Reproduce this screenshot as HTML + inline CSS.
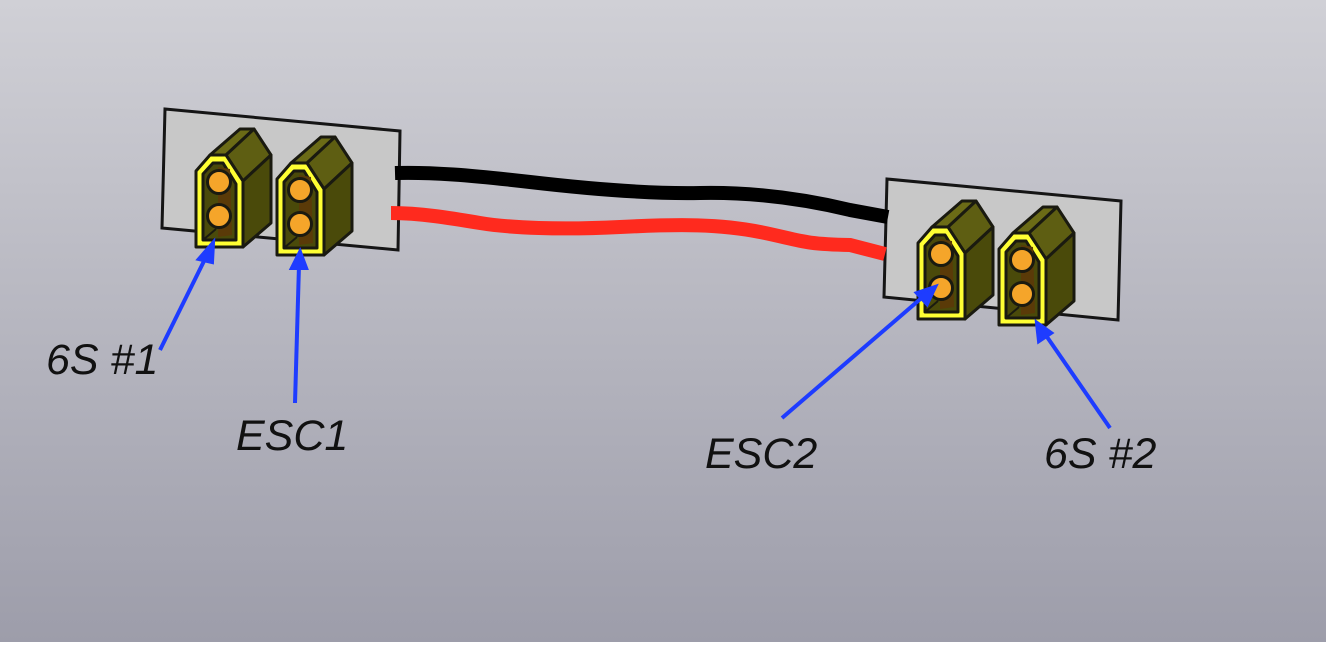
<!DOCTYPE html>
<html><head><style>html,body{margin:0;padding:0}body{width:1326px;height:642px;overflow:hidden}</style></head>
<body>
<svg width="1326" height="642" xmlns="http://www.w3.org/2000/svg">
<defs>
<linearGradient id="bg" x1="0" y1="0" x2="0" y2="1"><stop offset="0" stop-color="#d0d0d6"/><stop offset="1" stop-color="#9d9daa"/></linearGradient>
<g id="conn" stroke="#1a1a10" stroke-width="3" stroke-linejoin="round">
  <polygon points="14,0 30,0 58,-26 44,-26" fill="#6b6b16"/>
  <polygon points="30,0 47,26 75,0 58,-26" fill="#5e5e12"/>
  <polygon points="47,26 75,0 75,68 47,92" fill="#4a4a0a"/>
  <polygon points="0,92 0,16 14,0 30,0 47,26 47,92" fill="#ffff33"/>
  <polygon points="7,85 7,19 17,8 27,8 40,29 40,85" fill="#4a4a0a"/>
  <polygon points="22,12 34,14 36,80 22,82" fill="#5a3a08" stroke="none"/>
  <circle cx="23" cy="27" r="11.5" fill="#f5a52a"/>
  <circle cx="23" cy="61" r="11.5" fill="#f5a52a"/>
  <line x1="7" y1="85" x2="20" y2="74" stroke-width="2"/>
</g>
</defs>
<rect width="1326" height="642" fill="url(#bg)"/>
<polygon points="165,109 400,131 398,250 162,228" fill="#c8c8c8" stroke="#151515" stroke-width="3"/>
<polygon points="887,179 1121,201 1118,320 884,297" fill="#c8c8c8" stroke="#151515" stroke-width="3"/>
<path d="M395,173 C430,172 470,175 530,182 S650,194 700,193 S800,198 850,210 L888,217" fill="none" stroke="#000" stroke-width="14"/>
<path d="M391,213 C420,213 450,218 480,223 S560,230 620,227 S720,224 760,232 S800,244 850,245 L885,254" fill="none" stroke="#ff2a1e" stroke-width="14"/>
<use href="#conn" x="196" y="155"/>
<use href="#conn" x="277" y="163"/>
<use href="#conn" x="918" y="227"/>
<use href="#conn" x="999" y="233"/>
<g stroke="#1e3cff" stroke-width="4" fill="#1e3cff">
<line x1="160" y1="350" x2="207" y2="255"/><polygon points="213,243 199,259 212,262"/>
<line x1="295" y1="403" x2="299" y2="265"/><polygon points="300,252 292,268 306,268"/>
<line x1="782" y1="418" x2="925" y2="295"/><polygon points="935,287 917,293 927,304"/>
<line x1="1110" y1="428" x2="1045" y2="334"/><polygon points="1037,323 1039,341 1051,333"/>
</g>
<g font-family="Liberation Sans, sans-serif" font-style="italic" font-size="43" fill="#111">
<text x="46" y="374">6S #1</text>
<text x="236" y="450">ESC1</text>
<text x="705" y="468">ESC2</text>
<text x="1044" y="468">6S #2</text>
</g>
</svg>
</body></html>
